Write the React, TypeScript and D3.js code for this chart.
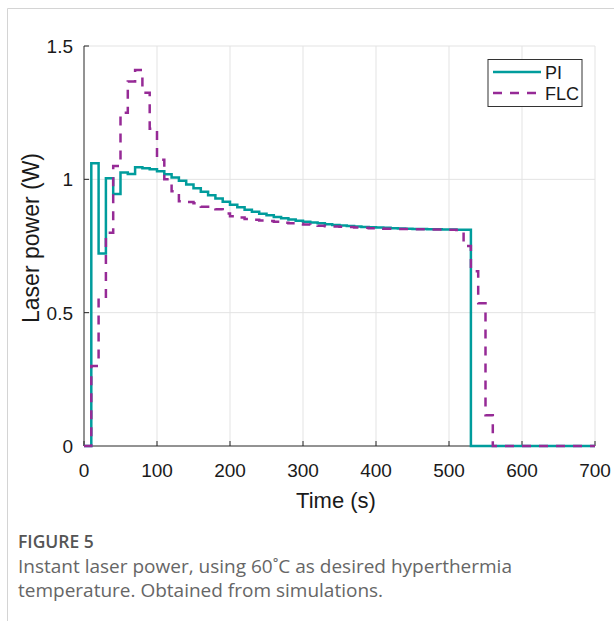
import React from "react";
import * as d3 from "d3";

const timeSteps = [
  0, 10, 20, 30, 40, 50, 60, 70, 80, 90,
  100, 110, 120, 130, 140, 150, 160, 170, 180, 190,
  200, 210, 220, 230, 240, 250, 260, 270, 280, 290,
  300, 310, 320, 330, 340, 350, 360, 370, 380, 390,
  400, 410, 420, 430, 440, 450, 460, 470, 480, 490,
  500, 510, 520, 530, 540, 550, 560, 570, 580, 590,
  600, 610, 620, 630, 640, 650, 660, 670, 680, 690, 700,
];

const piPower = [
  0, 1.06, 0.722, 1.004, 0.945, 1.026, 1.02, 1.045, 1.042, 1.038,
  1.03, 1.019, 1.007, 0.995, 0.981, 0.967, 0.953, 0.94, 0.928, 0.916,
  0.905, 0.895, 0.886, 0.878, 0.871, 0.865, 0.859, 0.854, 0.849, 0.845,
  0.841, 0.838, 0.835, 0.832, 0.829, 0.827, 0.825, 0.823, 0.821, 0.82,
  0.819, 0.818, 0.817, 0.816, 0.815, 0.814, 0.814, 0.813, 0.813, 0.812,
  0.812, 0.811, 0.811, 0, 0, 0, 0, 0, 0, 0,
  0, 0, 0, 0, 0, 0, 0, 0, 0, 0, 0,
];

const flcPower = [
  0, 0.3, 0.555, 0.8, 1.05, 1.25, 1.367, 1.41, 1.325, 1.19,
  1.073, 1.0, 0.955, 0.918, 0.915, 0.91, 0.897, 0.892, 0.888, 0.872,
  0.862, 0.857, 0.851, 0.848, 0.846, 0.844, 0.841, 0.837, 0.835, 0.833,
  0.831, 0.829, 0.826, 0.824, 0.823, 0.822, 0.821, 0.819, 0.818, 0.817,
  0.816, 0.815, 0.815, 0.814, 0.814, 0.813, 0.813, 0.812, 0.812, 0.811,
  0.811, 0.81, 0.75, 0.655, 0.535, 0.115, 0, 0, 0, 0,
  0, 0, 0, 0, 0, 0, 0, 0, 0, 0, 0,
];

const xTicks = [0, 100, 200, 300, 400, 500, 600, 700];
const yTicks = [0, 0.5, 1, 1.5];
const seriesNames = ["PI", "FLC"];
const seriesColors = ["#009c9c", "#962a96"];

const W = 614;
const H = 621;
const left = 84;
const right = 595;
const top = 46;
const bottom = 446;

export default function App() {
  const x = d3.scaleLinear().domain([0, 700]).range([left, right]);
  const y = d3.scaleLinear().domain([0, 1.5]).range([bottom, top]);
  const line = d3
    .line<number>()
    .x((_, i) => x(timeSteps[i]))
    .y((d) => y(d))
    .curve(d3.curveStepAfter);

  const font = "'Liberation Sans', Arial, Helvetica, sans-serif";
  const tickColor = "#262626";
  const gridColor = "#e3e3e3";

  return (
    <svg
      width={W}
      height={H}
      style={{ position: "absolute", left: 0, top: 0, background: "#fff" }}
    >
      <rect x={0} y={0} width={W} height={H} fill="#fff" />
      {/* figure frame */}
      <line x1={7.5} y1={8.5} x2={W} y2={8.5} stroke="#d4d4d4" strokeWidth={1} />
      <line x1={7.5} y1={8.5} x2={7.5} y2={H} stroke="#d4d4d4" strokeWidth={1} />

      {/* grid */}
      {xTicks.slice(1).map((t) => (
        <line key={"gx" + t} x1={x(t)} x2={x(t)} y1={top} y2={bottom} stroke={gridColor} strokeWidth={1} />
      ))}
      {yTicks.slice(1).map((t) => (
        <line key={"gy" + t} x1={left} x2={right} y1={y(t)} y2={y(t)} stroke={gridColor} strokeWidth={1} />
      ))}

      {/* axes */}
      <line x1={left} x2={left} y1={top} y2={bottom} stroke={tickColor} strokeWidth={1} />
      <line x1={left} x2={right} y1={bottom} y2={bottom} stroke={tickColor} strokeWidth={1} />
      {xTicks.map((t) => (
        <g key={"xt" + t}>
          <line x1={x(t)} x2={x(t)} y1={bottom} y2={bottom - 5} stroke={tickColor} strokeWidth={1} />
          <text x={x(t)} y={bottom + 31} textAnchor="middle" fontFamily={font} fontSize={19} fill="#1a1a1a">
            {t}
          </text>
        </g>
      ))}
      {yTicks.map((t) => (
        <g key={"yt" + t}>
          <line x1={left} x2={left + 5} y1={y(t)} y2={y(t)} stroke={tickColor} strokeWidth={1} />
          <text x={left - 11} y={y(t) + 7} textAnchor="end" fontFamily={font} fontSize={19} fill="#1a1a1a">
            {t}
          </text>
        </g>
      ))}

      {/* axis titles */}
      <text x={336} y={508} textAnchor="middle" fontFamily={font} fontSize={22} fill="#1a1a1a">
        Time (s)
      </text>
      <text
        transform={`translate(39, 238) rotate(-90)`}
        textAnchor="middle"
        fontFamily={font}
        fontSize={23}
        fill="#1a1a1a"
      >
        Laser power (W)
      </text>

      {/* series */}
      <path d={line(piPower) || ""} fill="none" stroke={seriesColors[0]} strokeWidth={2.5} />
      <path
        d={line(flcPower) || ""}
        fill="none"
        stroke={seriesColors[1]}
        strokeWidth={2.5}
        strokeDasharray="9,8"
      />

      {/* legend */}
      <rect x={488} y={59.5} width={94} height={47} fill="#fff" stroke="#333" strokeWidth={1} />
      {seriesNames.map((n, i) => (
        <g key={n}>
          <line
            x1={493}
            x2={541}
            y1={72 + i * 21}
            y2={72 + i * 21}
            stroke={seriesColors[i]}
            strokeWidth={2.5}
            strokeDasharray={i === 1 ? "9,8" : undefined}
          />
          <text x={545} y={72 + i * 21 + 6.5} fontFamily={font} fontSize={18} fill="#1a1a1a">
            {n}
          </text>
        </g>
      ))}

      {/* caption */}
      <text x={18} y={548} fontFamily="'Open Sans', sans-serif" fontWeight={600} fontSize={17.5} fill="#555">
        FIGURE 5
      </text>
      <text x={18} y={573} fontFamily="'Open Sans', sans-serif" fontSize={19} fill="#666">
        Instant laser power, using 60˚C as desired hyperthermia
      </text>
      <text x={18} y={597} fontFamily="'Open Sans', sans-serif" fontSize={19} fill="#666">
        temperature. Obtained from simulations.
      </text>
    </svg>
  );
}
